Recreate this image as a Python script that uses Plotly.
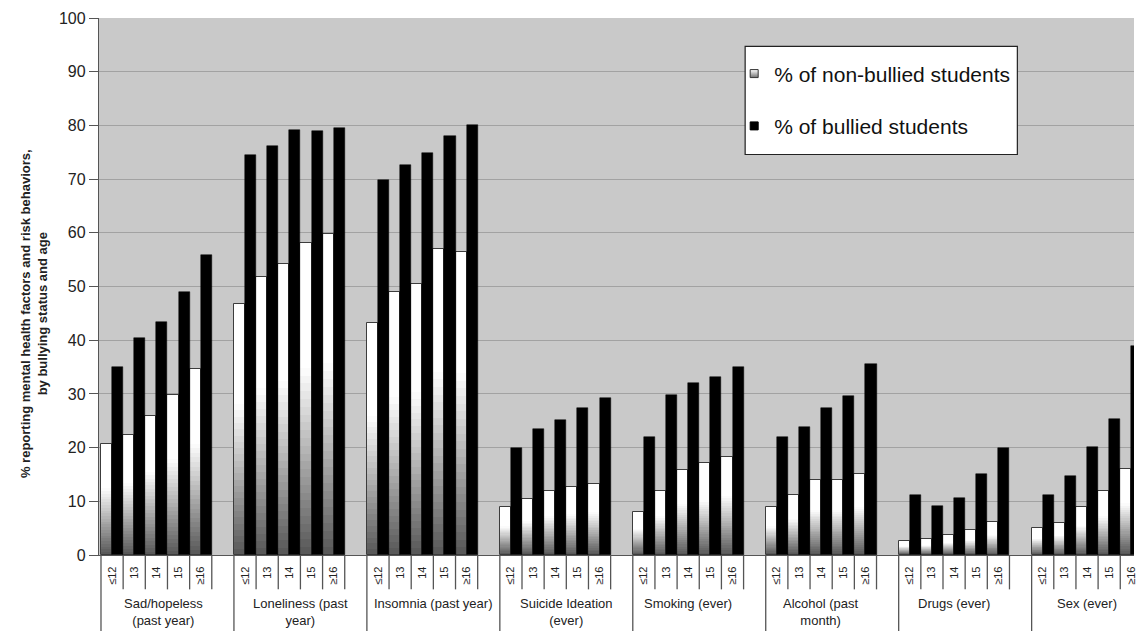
import plotly.graph_objects as go

# ---------------- data ----------------
groups = [
    "Sad/hopeless<br>(past year)",
    "Loneliness (past<br>year)",
    "Insomnia (past year)",
    "Suicide Ideation<br>(ever)",
    "Smoking (ever)",
    "Alcohol (past<br>month)",
    "Drugs (ever)",
    "Sex (ever)",
]
ages = ["≤12", "13", "14", "15", "≥16"]

non_bullied = [
    [20.7, 22.3, 25.9, 29.8, 34.6],
    [46.8, 51.8, 54.1, 58.1, 59.7],
    [43.2, 49.0, 50.5, 56.9, 56.4],
    [8.9, 10.4, 12.0, 12.6, 13.2],
    [8.1, 12.0, 15.8, 17.1, 18.3],
    [8.9, 11.2, 14.0, 14.0, 15.0],
    [2.7, 3.0, 3.8, 4.6, 6.1],
    [5.1, 6.0, 9.0, 12.0, 16.0],
]
bullied = [
    [35.0, 40.5, 43.4, 49.0, 55.9],
    [74.4, 76.1, 79.2, 79.0, 79.6],
    [69.9, 72.7, 74.8, 78.0, 80.0],
    [19.9, 23.5, 25.2, 27.3, 29.2],
    [22.0, 29.8, 32.1, 33.1, 35.0],
    [22.0, 23.9, 27.3, 29.6, 35.6],
    [11.2, 9.1, 10.6, 15.0, 20.0],
    [11.1, 14.7, 20.1, 25.4, 39.0],
]

legend_names = ["% of non-bullied students", "% of bullied students"]
y_title = "% reporting mental health factors and risk behaviors,<br>by bullying status and age"

# ---------------- style ----------------
FONT = "Arial, Liberation Sans, sans-serif"
label_xshift = [-4, 0, 0, 0, -11, -11, -11, -11]  # px nudges of the group captions
SLOTS = len(ages) + 1  # one empty slot after each group

xs, ticktext, nb_vals, b_vals = [], [], [], []
for g in range(len(groups)):
    for a, age in enumerate(ages):
        xs.append(g * SLOTS + a)
        ticktext.append(age)
        nb_vals.append(non_bullied[g][a])
        b_vals.append(bullied[g][a])

fig = go.Figure()

# gradient-filled non-bullied bars (layered from tallest/lightest to shortest/darkest)
N = 40
for k in range(N - 1, -1, -1):
    t = (k + 0.5) / N
    L = int(round(85 + 170 * min(1.0, t / 0.6)))
    fig.add_bar(
        x=xs,
        y=[v * (k + 1) / N for v in nb_vals],
        offset=-0.5, width=0.5,
        marker=dict(color=f"rgb({L},{L},{L})", line=dict(width=0)),
        showlegend=False, hoverinfo="skip",
    )
# outline of non-bullied bars
fig.add_bar(
    x=xs, y=nb_vals, offset=-0.5, width=0.5,
    marker=dict(color="rgba(0,0,0,0)", line=dict(color="#3c3c3c", width=1)),
    showlegend=False, name=legend_names[0],
)
# bullied bars
fig.add_bar(
    x=xs, y=b_vals, offset=0.0, width=0.5,
    marker=dict(color="#000000", line=dict(color="#000000", width=0.5)),
    showlegend=False, name=legend_names[1],
)

# legend entries
fig.add_scatter(
    x=[None], y=[None], mode="markers", name=legend_names[0], legendgroup="nb",
    marker=dict(symbol="square", size=8, color="#ffffff",
                gradient=dict(type="vertical", color="#707070"),
                line=dict(color="#333333", width=1)),
)
fig.add_scatter(
    x=[None], y=[None], mode="markers", name=legend_names[1], legendgroup="b",
    marker=dict(symbol="square", size=8, color="#000000",
                line=dict(color="#000000", width=1)),
)

# ---------------- x-axis furniture ----------------
shapes = []
annotations = []
ng = len(groups)
for g in range(ng):
    left = g * SLOTS - 0.5
    # long group divider
    shapes.append(dict(type="line", xref="x", yref="paper", x0=left, x1=left,
                       y0=0, y1=-0.25, line=dict(color="#555555", width=1.3)))
    # short separators between age slots (and before the empty slot)
    for k in range(1, SLOTS):
        xb = left + k
        shapes.append(dict(type="line", xref="x", yref="paper", x0=xb, x1=xb,
                           y0=0, y1=-0.064, line=dict(color="#555555", width=1.3)))
    annotations.append(dict(
        x=g * SLOTS + (SLOTS - 1) / 2, xref="x", y=-0.072, yref="paper",
        xshift=label_xshift[g],
        yanchor="top", xanchor="center", text=groups[g], showarrow=False,
        font=dict(family=FONT, size=13, color="#222222"), align="center",
    ))

# legend frame
shapes.append(dict(type="rect", xref="paper", yref="paper",
                   x0=0.6243, x1=0.8873, y0=0.7458, y1=0.947,
                   fillcolor="#ffffff", line=dict(color="#222222", width=1.2),
                   layer="above"))

# y axis title
annotations.append(dict(
    x=-0.0621, xref="paper", y=0.45, yref="paper", text=f"<b>{y_title}</b>",
    textangle=-90, showarrow=False, xanchor="center", yanchor="middle",
    font=dict(family=FONT, size=13, color="#222222"), align="center",
))

fig.update_layout(
    width=1137, height=631, autosize=False,
    margin=dict(l=99, r=0, t=18, b=76),
    paper_bgcolor="#ffffff", plot_bgcolor="#c9c9c9",
    barmode="overlay", bargap=0,
    font=dict(family=FONT, color="#222222"),
    shapes=shapes, annotations=annotations,
    legend=dict(x=0.6137, y=0.934, xanchor="left", yanchor="top",
                bgcolor="rgba(0,0,0,0)", borderwidth=0,
                font=dict(family=FONT, size=21, color="#111111"),
                tracegroupgap=22, traceorder="grouped"),
    showlegend=True,
)
fig.update_xaxes(
    range=[-0.59, 46.12], tickmode="array", tickvals=xs, ticktext=ticktext,
    tickangle=-90, ticks="", showgrid=False, zeroline=False,
    showline=True, linecolor="#555555", linewidth=1.3,
    tickfont=dict(family=FONT, size=11, color="#222222"),
    ticklabelstandoff=6, ticklabeloverflow="allow",
)
fig.update_yaxes(
    range=[0, 100], dtick=10, tick0=0, showgrid=True, gridcolor="#a2a2a2", gridwidth=1,
    zeroline=False, showline=True, linecolor="#555555", linewidth=1.3,
    ticks="outside", ticklen=9, tickcolor="#555555", tickwidth=1.3,
    tickfont=dict(family=FONT, size=16, color="#222222"),
)

# remove the page's default body margin so the figure fills the window exactly
fig.write_html(
    "out.html",
    config={"displayModeBar": False},
    post_script="document.body.style.margin='0';document.body.style.overflow='hidden';",
)
